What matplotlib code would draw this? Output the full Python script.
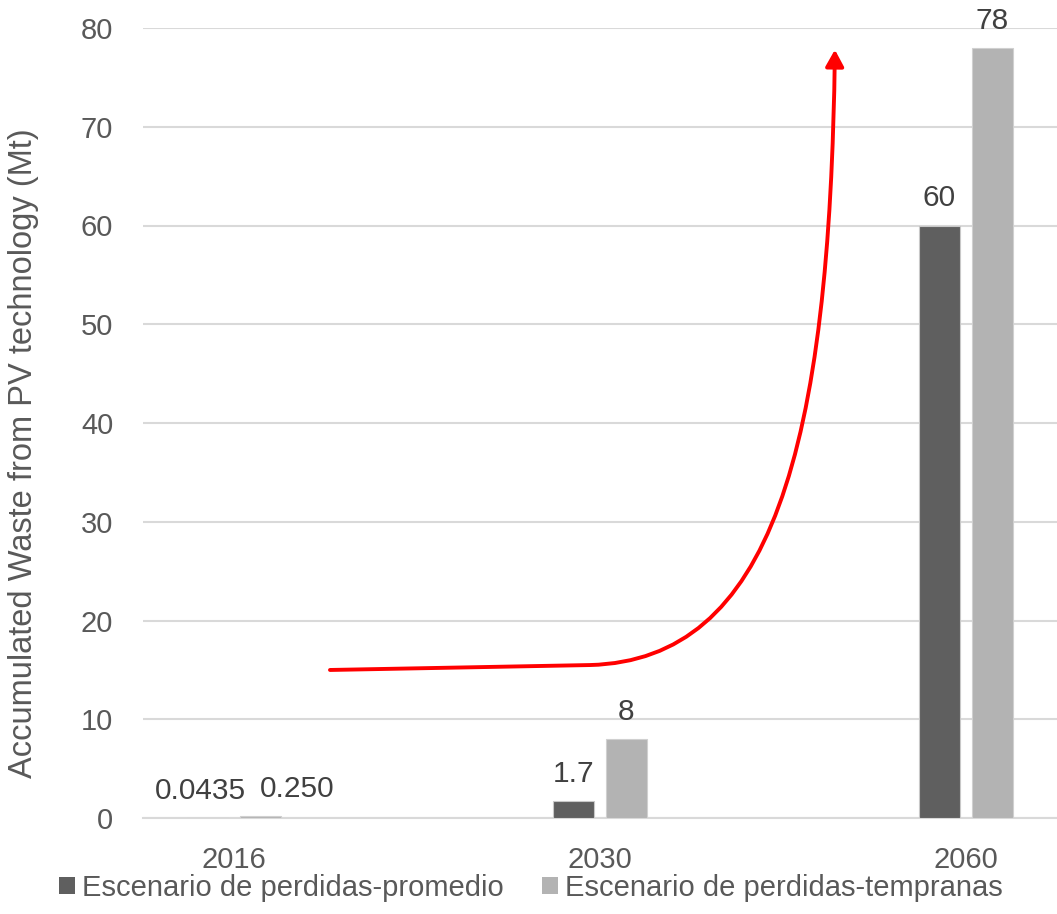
import matplotlib
matplotlib.use("Agg")
import matplotlib.pyplot as plt
import numpy as np
from matplotlib.path import Path
from matplotlib.patches import FancyArrowPatch, Patch

years = ["2016", "2030", "2060"]
promedio = [0.0435, 1.7, 60]
tempranas = [0.250, 8, 78]
labels_promedio = ["0.0435", "1.7", "60"]
labels_tempranas = ["0.250", "8", "78"]
series_names = ["Escenario de perdidas-promedio", "Escenario de perdidas-tempranas"]
yticks = [0, 10, 20, 30, 40, 50, 60, 70, 80]
ylabel = "Accumulated Waste from PV technology (Mt)"

plt.rcParams["font.family"] = ["Liberation Sans", "DejaVu Sans"]

W, H = 1057, 914
fig = plt.figure(figsize=(W / 100, H / 100), dpi=100)
ax = fig.add_axes([143 / W, (H - 818) / H, (W - 143) / W, (818 - 28) / H])

dark = "#5f5f5f"
light = "#b3b3b3"
x = np.arange(len(years))
bw = 0.112
off = 0.072
ax.bar(x - off, promedio, bw, color=dark, edgecolor="#c8c8c8", linewidth=0.8, zorder=3)
ax.bar(x + off, tempranas, bw, color=light, edgecolor="#d0d0d0", linewidth=0.8, zorder=3)

# horizontal nudges (pixels) so the two tiny 2016 labels don't collide
nudge_dark = [-7, 0, 0]
nudge_light = [37, 0, 0]
for xi, v, t, dx in zip(x - off, promedio, labels_promedio, nudge_dark):
    ax.annotate(t, (xi, v), xytext=(dx, 13), textcoords="offset pixels",
                ha="center", va="bottom", fontsize=21.5, color="#404040")
for xi, v, t, dx in zip(x + off, tempranas, labels_tempranas, nudge_light):
    ax.annotate(t, (xi, v), xytext=(dx, 13), textcoords="offset pixels",
                ha="center", va="bottom", fontsize=21.5, color="#404040")

ax.set_xlim(-0.249, 2.249)
ax.set_ylim(0, 80)
ax.set_yticks(yticks)
ax.set_xticks(x)
ax.set_xticklabels(years)
ax.grid(axis="y", color="#d9d9d9", linewidth=1.5, zorder=0)
for s in ["top", "right", "left"]:
    ax.spines[s].set_visible(False)
ax.spines["bottom"].set_color("#d9d9d9")
ax.spines["bottom"].set_linewidth(1.5)
ax.tick_params(axis="both", length=0, labelsize=21, labelcolor="#595959")
ax.tick_params(axis="y", pad=21.5)
ax.tick_params(axis="x", pad=20)
ax.set_ylabel(ylabel, fontsize=23.5, color="#595959")
ax.yaxis.set_label_coords(-104 / (W - 143), (818 - 453) / (818 - 28))

# red growth arrow (annotation)
verts = [(0.262, 14.99), (0.973, 15.49), (1.47, 16.0), (1.628, 37.27), (1.642, 77.8)]
codes = [Path.MOVETO, Path.LINETO, Path.CURVE4, Path.CURVE4, Path.CURVE4]
arrow = FancyArrowPatch(path=Path(verts, codes), arrowstyle="-|>,head_length=1.0,head_width=0.55",
                        mutation_scale=10, color="red", lw=2.8, transform=ax.transData,
                        shrinkA=0, shrinkB=0, zorder=5, clip_on=False)
ax.add_patch(arrow)

handles = [Patch(facecolor=dark, edgecolor="none"), Patch(facecolor=light, edgecolor="none")]
fig.legend(handles, series_names, loc="center", bbox_to_anchor=(531 / W, (H - 888) / H),
           ncol=2, frameon=False, fontsize=21, labelcolor="#595959",
           handlelength=0.55, handleheight=0.55, handletextpad=0.25, columnspacing=1.3)

fig.savefig("out.png", dpi=100)
